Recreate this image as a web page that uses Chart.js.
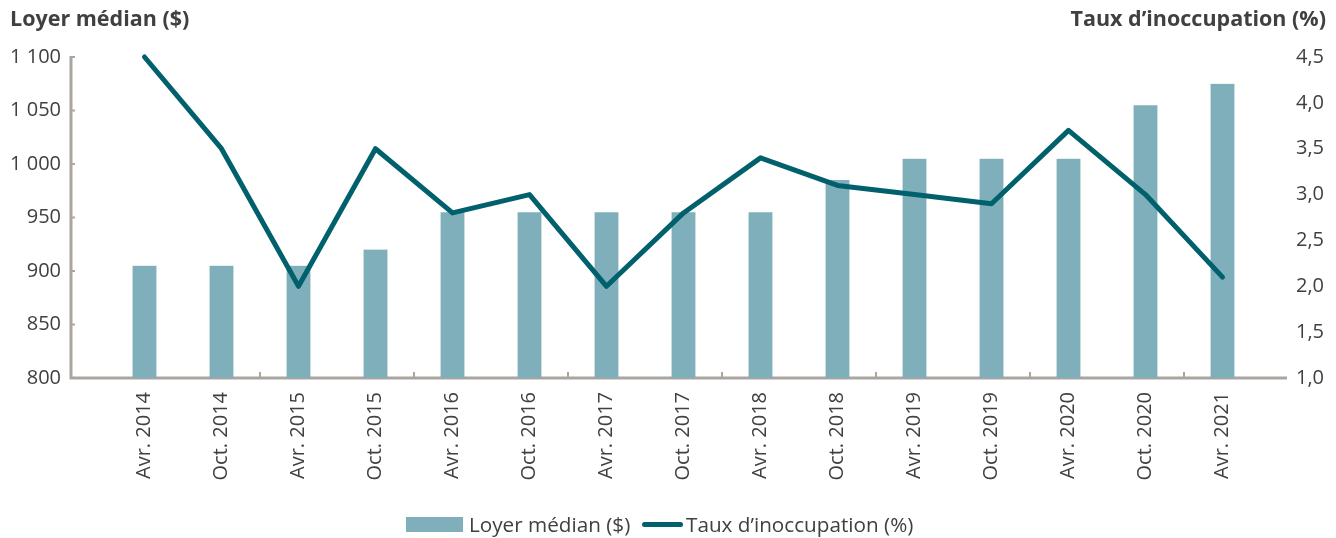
<!DOCTYPE html>
<html>
<head>
<meta charset="utf-8">
<script src="https://cdn.jsdelivr.net/npm/chart.js@4/dist/chart.umd.min.js"></script>
<style>
  html, body { margin: 0; padding: 0; background: #fff; }
  #wrap { position: relative; width: 1336px; height: 538px; font-family: "Open Sans", Lato, sans-serif; color: #404040; }
  #wrap canvas { position: absolute; left: 0; top: 0; }
  .axis-title { position: absolute; top: 3px; font-size: 21.5px; font-weight: bold; white-space: nowrap; }
  .legend { position: absolute; top: 508px; font-size: 20.7px; white-space: nowrap; }
  .legend span { display: inline-block; vertical-align: middle; }
</style>
</head>
<body>
<div id="wrap">
  <canvas id="chart" width="1336" height="538"></canvas>
  <div class="axis-title" style="left:10px;">Loyer médian ($)</div>
  <div class="axis-title" style="right:10px;">Taux d’inoccupation (%)</div>
  <div class="legend" style="left:406px;">
    <span style="width:57px;height:15px;background:#7fafba;margin-right:6px;"></span><span>Loyer médian ($)</span>
  </div>
  <div class="legend" style="left:642px;">
    <span style="width:41px;height:5px;border-radius:3px;background:#00606c;margin-right:3px;"></span><span>Taux d’inoccupation (%)</span>
  </div>
</div>
<script>
// périodes (axe des x)
var periodes = ["Avr. 2014", "Oct. 2014", "Avr. 2015", "Oct. 2015", "Avr. 2016", "Oct. 2016",
                "Avr. 2017", "Oct. 2017", "Avr. 2018", "Oct. 2018", "Avr. 2019", "Oct. 2019",
                "Avr. 2020", "Oct. 2020", "Avr. 2021"];

// loyer médian ($) - barres, axe de gauche
var loyerMedian = [905, 905, 905, 920, 955, 955, 955, 955, 955, 985, 1005, 1005, 1005, 1055, 1075];

// taux d'inoccupation (%) - ligne, axe de droite
var tauxInoccupation = [4.5, 3.5, 2.0, 3.5, 2.8, 3.0, 2.0, 2.8, 3.4, 3.1, 3.0, 2.9, 3.7, 3.0, 2.1];

// bornes des axes
var loyerMin = 800, loyerMax = 1100, loyerPas = 50;
var tauxMin = 1.0, tauxMax = 4.5, tauxPas = 0.5;

var axisColor = '#aba5a0';
var textColor = '#404040';
var font = { family: '"Open Sans", Lato, sans-serif', size: 20 };

// lignes d'axe façon Excel (axe x plus long que la zone des catégories)
var axesPlugin = {
  id: 'axesExcel',
  beforeDatasetsDraw: function(chart){
    var ctx = chart.ctx,
        area = chart.chartArea,
        x = chart.scales.x,
        y = chart.scales.y,
        left = area.left - 35,
        right = area.right + 26,
        bottom = area.bottom,
        i, px, py;

    ctx.save();
    ctx.strokeStyle = axisColor;
    ctx.lineWidth = 3;
    ctx.beginPath();
    ctx.moveTo(left, area.top - 1);
    ctx.lineTo(left, bottom + 1.5);
    ctx.moveTo(left - 1.5, bottom);
    ctx.lineTo(right, bottom);
    ctx.stroke();

    // petites graduations de l'axe de gauche
    ctx.lineWidth = 2;
    ctx.beginPath();
    for(i = 0; i < y.ticks.length; i++){
      py = y.getPixelForValue(y.ticks[i].value);
      ctx.moveTo(left, py);
      ctx.lineTo(left + 4, py);
    }
    // graduations de l'axe x, une sur deux catégories
    for(i = 1; i < periodes.length - 1; i += 2){
      px = (x.getPixelForValue(i) + x.getPixelForValue(i + 1)) / 2;
      ctx.moveTo(px, bottom);
      ctx.lineTo(px, bottom - 6);
    }
    ctx.stroke();
    ctx.restore();
  }
};

new Chart(document.getElementById('chart'), {
  data: {
    labels: periodes,
    datasets: [
      {
        type: 'line',
        label: 'Taux d’inoccupation (%)',
        data: tauxInoccupation,
        yAxisID: 'y1',
        borderColor: '#00606c',
        borderWidth: 5,
        borderJoinStyle: 'round',
        borderCapStyle: 'round',
        pointRadius: 0,
        tension: 0,
        clip: false,
        order: 0
      },
      {
        type: 'bar',
        label: 'Loyer médian ($)',
        data: loyerMedian,
        yAxisID: 'y',
        backgroundColor: '#7fafba',
        borderColor: '#ffffff',
        borderWidth: { top: 0, left: 0, right: 0, bottom: 5 },
        borderSkipped: false,
        barThickness: 24,
        order: 1
      }
    ]
  },
  options: {
    responsive: false,
    devicePixelRatio: 1,
    animation: false,
    layout: { padding: { top: 53, left: 0, right: 0, bottom: 0 } },
    plugins: {
      legend: { display: false },
      tooltip: { enabled: false }
    },
    scales: {
      x: {
        offset: true,
        grid: { display: false, drawTicks: false },
        border: { display: false },
        ticks: {
          color: textColor, font: font,
          minRotation: 90, maxRotation: 90,
          autoSkip: false, padding: 14
        },
        afterFit: function(scale){ scale.height = 160; }
      },
      y: {
        position: 'left',
        min: loyerMin, max: loyerMax,
        grid: { display: false, drawTicks: false },
        border: { display: false },
        ticks: {
          stepSize: loyerPas,
          color: textColor, font: font, padding: 45,
          callback: function(v){
            if (v >= 1000) { return Math.floor(v / 1000) + ' ' + String(v % 1000).padStart(3, '0'); }
            return String(v);
          }
        },
        afterFit: function(scale){ scale.width = 106; }
      },
      y1: {
        position: 'right',
        min: tauxMin, max: tauxMax,
        grid: { display: false, drawTicks: false },
        border: { display: false },
        ticks: {
          stepSize: tauxPas,
          color: textColor, font: font, padding: 35,
          callback: function(v){ return v.toFixed(1).replace('.', ','); }
        },
        afterFit: function(scale){ scale.width = 75; }
      }
    }
  },
  plugins: [axesPlugin]
});
</script>
</body>
</html>
